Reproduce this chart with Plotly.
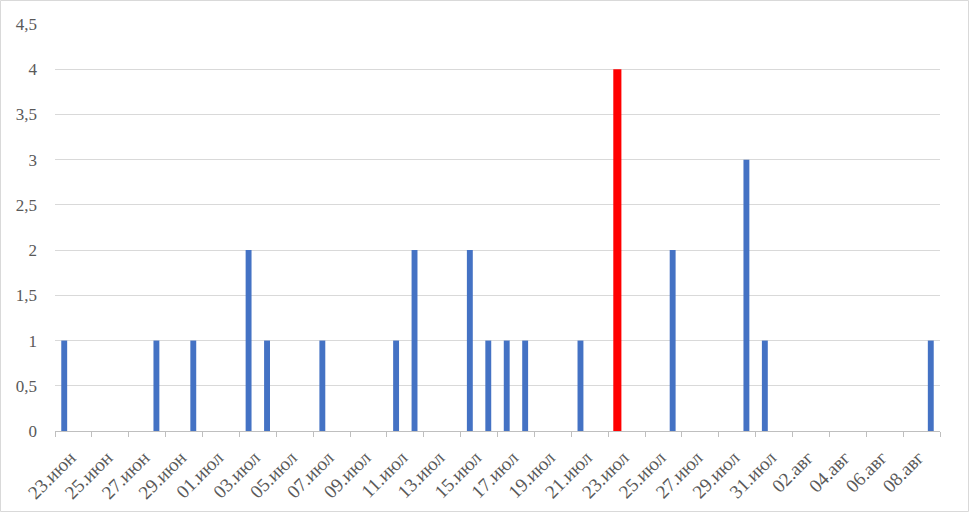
import plotly.graph_objects as go
import pandas as pd

# ---- data ----
blue_dates = ["2021-06-23", "2021-06-28", "2021-06-30", "2021-07-03", "2021-07-04",
              "2021-07-07", "2021-07-11", "2021-07-12", "2021-07-15", "2021-07-16",
              "2021-07-17", "2021-07-18", "2021-07-21", "2021-07-26", "2021-07-30",
              "2021-07-31", "2021-08-09"]
blue_values = [1, 1, 1, 2, 1, 1, 1, 2, 2, 1, 1, 1, 1, 2, 3, 1, 1]
red_dates = ["2021-07-23"]
red_values = [4]
axis_start = "2021-06-23"
axis_end = "2021-08-09"
month_names = {6: "июн", 7: "июл", 8: "авг"}

DAY = 86400000
start = pd.Timestamp(axis_start)
end = pd.Timestamp(axis_end)
tick_dates = pd.date_range(start, end, freq="2D")
tick_text = [f"{d.day:02d}.{month_names[d.month]}" for d in tick_dates]

FONT = "'Liberation Serif', 'Times New Roman', serif"
TXT = "#595959"

fig = go.Figure()
fig.add_trace(go.Bar(x=pd.to_datetime(blue_dates), y=blue_values, width=DAY * 0.32,
                     marker=dict(color="#4472c4", line=dict(width=0))))
fig.add_trace(go.Bar(x=pd.to_datetime(red_dates), y=red_values, width=DAY * 0.44,
                     marker=dict(color="#ff0000", line=dict(width=0))))

W, H = 969, 512
L, R, T, B = 55, 29, 24, 81
pw, ph = W - L - R, H - T - B

fig.update_layout(
    width=W, height=H, margin=dict(l=L, r=R, t=T, b=B, autoexpand=False),
    paper_bgcolor="white", plot_bgcolor="white",
    showlegend=False, barmode="overlay",
    separators=", ",
    font=dict(family=FONT, size=17, color=TXT),
    xaxis=dict(
        type="date", automargin=False,
        range=[start - pd.Timedelta(hours=12), end + pd.Timedelta(hours=12)],
        tickmode="array", tickvals=tick_dates, ticktext=tick_text,
        tickangle=-45, ticks="", showgrid=False,
        tickfont=dict(family=FONT, size=19, color=TXT),
        showline=True, linecolor="#bfbfbf", linewidth=1,
        ticklabelstandoff=7, ticklabelshift=6,
        minor=dict(tickmode="linear", tick0=start - pd.Timedelta(hours=12), dtick=2 * DAY,
                   ticks="outside", ticklen=5, tickcolor="#bfbfbf", tickwidth=1, showgrid=False),
        fixedrange=True,
    ),
    yaxis=dict(
        automargin=False, fixedrange=True,
        range=[0, 4.5], dtick=0.5, tick0=0,
        showgrid=True, gridcolor="#d9d9d9", gridwidth=1,
        zeroline=False, showline=False, ticks="",
        tickfont=dict(family=FONT, size=17, color=TXT),
        ticklabelstandoff=17,
    ),
    shapes=[dict(type="rect", xref="paper", yref="paper",
                 x0=(0.5 - L) / pw, x1=(W - 0.5 - L) / pw,
                 y0=(H - B - (H - 0.5)) / ph, y1=(H - B - 0.5) / ph,
                 line=dict(color="#d9d9d9", width=1), fillcolor="rgba(0,0,0,0)", layer="below")],
)

fig.write_html("out.html", config={"displayModeBar": False},
               post_script="document.body.style.margin='0';document.body.style.overflow='hidden';")
